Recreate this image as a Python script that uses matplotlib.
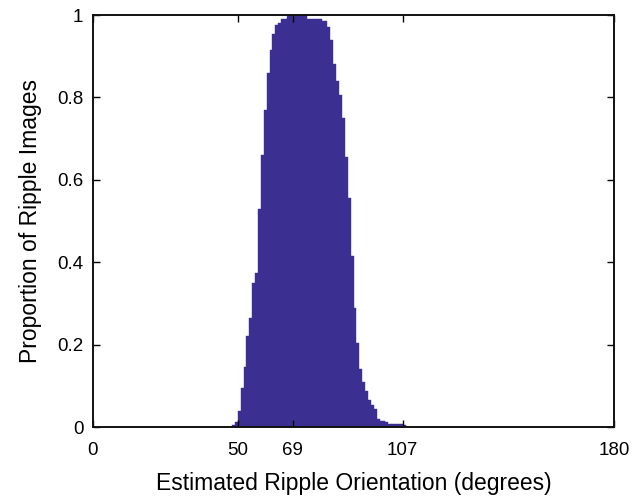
import matplotlib
matplotlib.use("Agg")
import matplotlib.pyplot as plt

# Histogram data: bin left edges (degrees) and proportions
bin_starts = list(range(48, 108))
proportions = [
    0.005, 0.013, 0.04, 0.095, 0.145, 0.22, 0.265, 0.35, 0.375, 0.53,   # 48-57
    0.66, 0.77, 0.86, 0.915, 0.955, 0.975, 0.98, 0.99, 0.99, 0.997,     # 58-67
    1.0, 1.0, 1.0, 1.0, 1.0, 1.0, 0.99, 0.99, 0.99, 0.99,               # 68-77
    0.99, 0.985, 0.985, 0.97, 0.94, 0.88, 0.84, 0.805, 0.75, 0.655,     # 78-87
    0.555, 0.415, 0.29, 0.205, 0.14, 0.11, 0.087, 0.065, 0.054, 0.044,  # 88-97
    0.02, 0.015, 0.015, 0.012, 0.008, 0.008, 0.008, 0.008, 0.008, 0.004 # 98-107
]
x_ticks = [0, 50, 69, 107, 180]
y_ticks = [0, 0.2, 0.4, 0.6, 0.8, 1]
y_tick_labels = ["0", "0.2", "0.4", "0.6", "0.8", "1"]

plt.rcParams['font.family'] = ['Liberation Sans', 'DejaVu Sans']

fig = plt.figure(figsize=(6.44, 4.96), dpi=100)
ax = fig.add_axes([93/644, 1-427/496, (614-93)/644, (427-15)/496])

ax.bar(bin_starts, proportions, width=1.0, align='edge', color='#3b3092',
       edgecolor='#3b3092', linewidth=0.3)

ax.set_xlim(0, 180)
ax.set_ylim(0, 1)
ax.set_xticks(x_ticks)
ax.set_xticklabels([str(t) for t in x_ticks])
ax.set_yticks(y_ticks)
ax.set_yticklabels(y_tick_labels)
ax.tick_params(direction='in', top=True, right=True, length=5, width=1,
               labelsize=13.5, colors='black')
ax.tick_params(axis='x', pad=10.5)
ax.tick_params(axis='y', pad=7)
for s in ax.spines.values():
    s.set_linewidth(1.4)
    s.set_color('#111111')

ax.set_xlabel("Estimated Ripple Orientation (degrees)", fontsize=16.5, labelpad=10)
ax.set_ylabel("Proportion of Ripple Images", fontsize=16.5, labelpad=11)

fig.savefig("out.png", dpi=100)
